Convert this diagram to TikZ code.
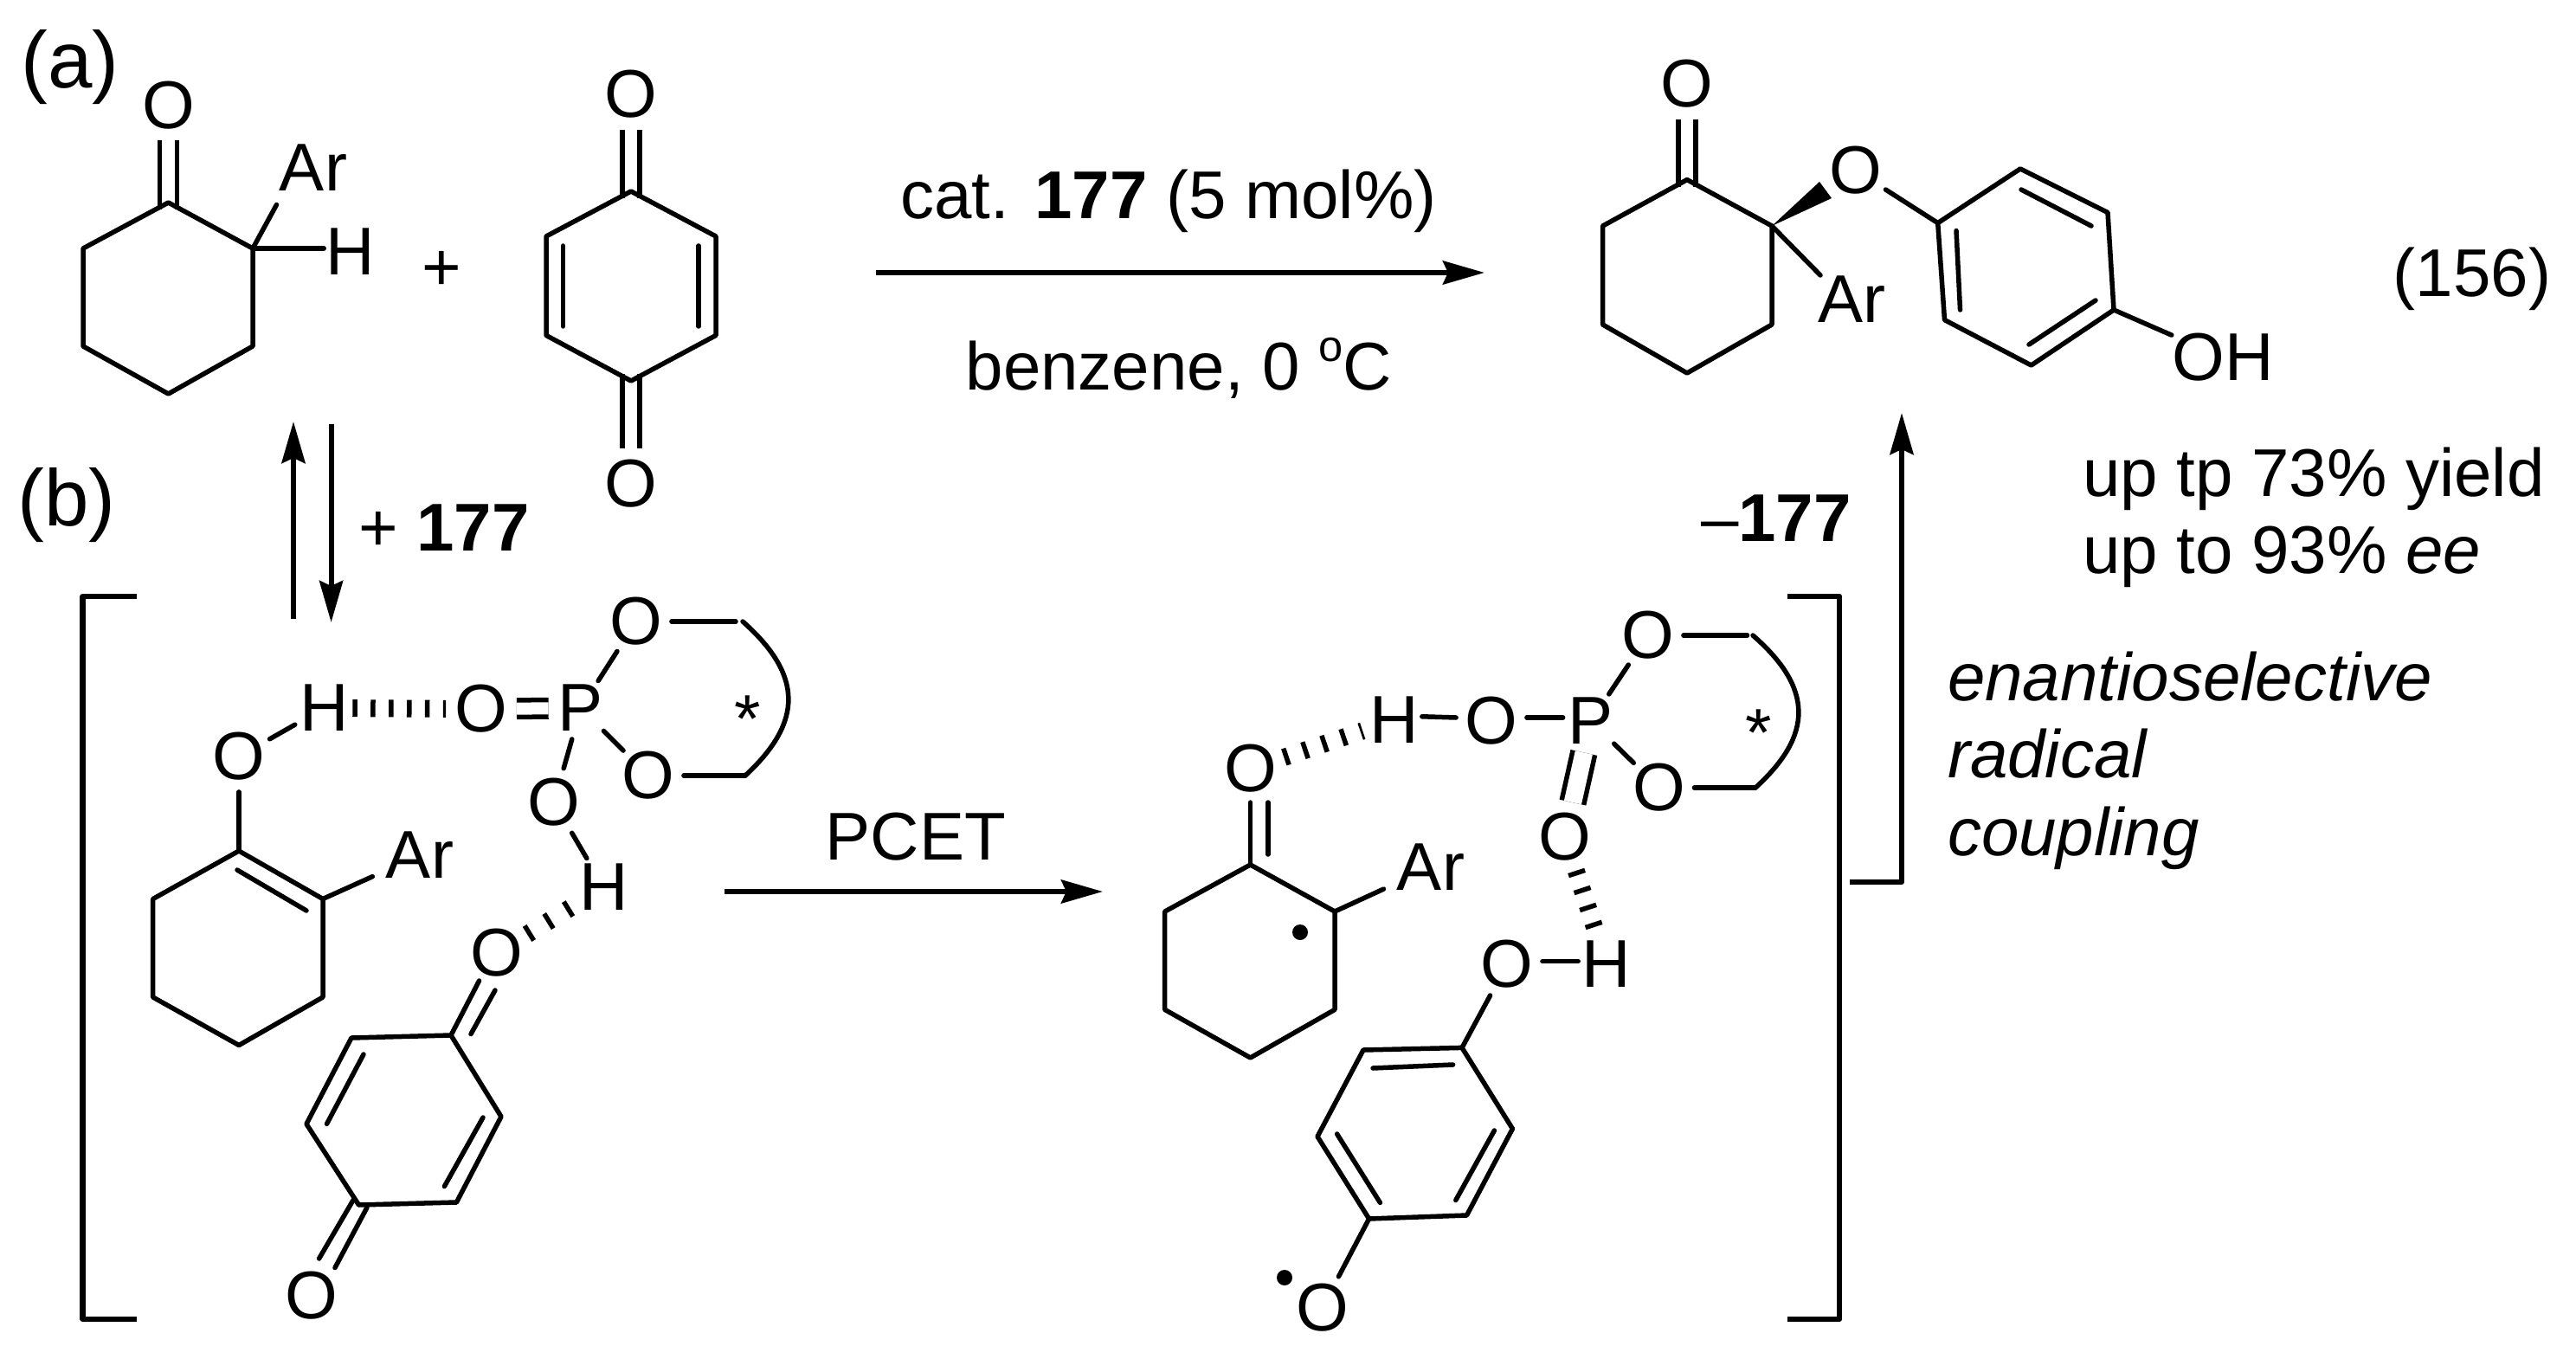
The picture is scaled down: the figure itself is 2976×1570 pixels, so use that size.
\documentclass[tikz,border=0pt]{standalone}
\usepackage{fontspec}
\setmainfont{Liberation Sans}
\usetikzlibrary{arrows.meta,calc}
\tikzset{
  bond/.style={line width=.055cm,line cap=round},
  dbond/.style={line width=.055cm,line cap=butt,double,double distance=.145cm},
  hbond/.style={line width=.2cm,line cap=butt,dash pattern=on .055cm off #1},
  brack/.style={line width=.065cm},
  atom/.style={circle,inner sep=0pt,outer sep=0pt},
  arlabel/.style={atom,minimum size=1.2cm},
  txt/.style={inner sep=0pt,outer sep=0pt,anchor=base},
  txtl/.style={inner sep=0pt,outer sep=0pt,anchor=base west},
  partlabel/.style={txt,font=\fontsize{26.3}{30}\selectfont},
  radical/.style={circle,fill=black,inner sep=0pt,minimum size=.18cm},
}
\begin{document}
\begin{tikzpicture}[x=.01cm,y=-.01cm,line join=round,line width=.06cm,>={Stealth[length=.48cm,width=.27cm,inset=.06cm]},every node/.style={font=\fontsize{22.2}{26}\selectfont}]
\useasboundingbox (0,0) rectangle (2976,1570);
% labels
\node[partlabel] (la) at (81,102) {(a)};
\node[partlabel] (lb) at (77,607) {(b)};
\node[txt] (eqno) at (2856,343) {(156)};
\node[txtl] (plus) at (487,336) {+};
\node[txtl] (add) at (414,636) {+ \textbf{177}};
\node[txtl] (rem) at (1965,625) {--\textbf{177}};
\node[txt] (cat) at (1350,253) {cat. \textbf{177} (5 mol\%)};
\node[txt] (solv) at (1362,451) {benzene, 0 \raisebox{.33cm}{\fontsize{14.4}{16}\selectfont o}C};
\node[txt] (pcet) at (1058,993) {PCET};
\node[txtl] (yld) at (2406,573) {up tp 73\% yield};
\node[txtl] (ee) at (2406,662) {up to 93\% \textit{ee}};
\node[txtl] (it1) at (2250,809) {\textit{enantioselective}};
\node[txtl] (it2) at (2250,898) {\textit{radical}};
\node[txtl] (it3) at (2250,988) {\textit{coupling}};
% ketone
\coordinate (kc1) at (194.5,234); \coordinate (kc2) at (292,287); \coordinate (kc3) at (292,400);
\coordinate (kc4) at (194.5,455); \coordinate (kc5) at (96,400); \coordinate (kc6) at (96,287);
\node[atom] (ko) at (194.5,121.5) {O};
\node[arlabel] (kar) at (362,194) {Ar};
\node[atom] (kh) at (405,290.5) {H};
\draw[dbond,shorten >=-.08cm] (ko) -- (kc1);
\draw[bond] (kc1) -- (kc2) -- (kc3) -- (kc4) -- (kc5) -- (kc6) -- cycle;
\draw[bond] (kc2) -- (kar.south west);
\draw[bond,shorten >=-.08cm] (kc2) -- (kc2 -| kh.west);
% quinone
\coordinate (qc1) at (729,221); \coordinate (qc2) at (827,273); \coordinate (qc3) at (827,387.5);
\coordinate (qc4) at (729,440); \coordinate (qc5) at (631,387.5); \coordinate (qc6) at (631,273);
\coordinate (qi1) at (650.5,284); \coordinate (qi2) at (650.5,377);
\coordinate (qi3) at (807,284); \coordinate (qi4) at (807,377);
\node[atom] (qo1) at (729,109) {O};
\node[atom] (qo2) at (729,559) {O};
\draw[dbond,shorten >=-.08cm] (qo1) -- (qc1);
\draw[dbond,shorten >=-.08cm] (qo2) -- (qc4);
\draw[bond] (qc1) -- (qc2) -- (qc3) -- (qc4) -- (qc5) -- (qc6) -- cycle;
\draw[bond] (qi1) -- (qi2);
\draw[bond] (qi3) -- (qi4);
% product
\coordinate (pc1) at (1949,207.6); \coordinate (pc2) at (2047,261); \coordinate (pc3) at (2047,375);
\coordinate (pc4) at (1949,431); \coordinate (pc5) at (1851.6,375); \coordinate (pc6) at (1851.6,261);
\coordinate (pw1) at (2102,210); \coordinate (pw2) at (2116,229); \coordinate (par1) at (2103,318);
\coordinate (pa1) at (2238.7,257.6); \coordinate (pa2) at (2334,195); \coordinate (pa3) at (2435,245.5);
\coordinate (pa4) at (2442,358); \coordinate (pa5) at (2346.6,422); \coordinate (pa6) at (2246.5,369.6);
\coordinate (pi1) at (2335,219); \coordinate (pi2) at (2416,261);
\coordinate (pi3) at (2260,266.5); \coordinate (pi4) at (2264.5,358);
\coordinate (pi5) at (2421,347); \coordinate (pi6) at (2344,398);
\node[atom] (po1) at (1949,97) {O};
\node[atom] (po2) at (2144,197) {O};
\node[atom] (poh) at (2568,413) {OH};
\node[txtl] (par) at (2100,373) {Ar};
\draw[dbond,shorten >=-.08cm] (po1) -- (pc1);
\draw[bond] (pc1) -- (pc2) -- (pc3) -- (pc4) -- (pc5) -- (pc6) -- cycle;
\fill (pc2) -- (pw1) -- (pw2) -- cycle;
\draw[bond] (pc2) -- (par1);
\draw[bond] (po2) -- (pa1);
\draw[bond] (pa1) -- (pa2) -- (pa3) -- (pa4) -- (pa5) -- (pa6) -- cycle;
\draw[bond] (pi1) -- (pi2);
\draw[bond] (pi3) -- (pi4);
\draw[bond] (pi5) -- (pi6);
\draw[bond] (pa4) -- (poh);
% reaction arrows
\coordinate (ra1) at (1012,315); \coordinate (ra2) at (1715,315);
\draw[->] (ra1) -- (ra2);
\coordinate (eq1) at (339,714.5); \coordinate (eq2) at (339,487);
\coordinate (eq3) at (382.6,490); \coordinate (eq4) at (382.6,719);
\draw[->] (eq1) -- (eq2);
\draw[->] (eq3) -- (eq4);
\coordinate (pa) at (836.7,1030); \coordinate (pb) at (1274,1030);
\draw[->] (pa) -- (pb);
\coordinate (ex1) at (2136.5,1019); \coordinate (ex2) at (2197,1019); \coordinate (ex3) at (2197,477);
\draw[->] (ex1) -- (ex2) -- (ex3);
% brackets
\coordinate (lb1) at (158,689); \coordinate (lb2) at (95.7,689); \coordinate (lb3) at (95.7,1524); \coordinate (lb4) at (158,1524);
\coordinate (rb1) at (2065,689); \coordinate (rb2) at (2125,689); \coordinate (rb3) at (2125,1524); \coordinate (rb4) at (2065,1524);
\draw[brack] (lb1) -- (lb2) -- (lb3) -- (lb4);
\draw[brack] (rb1) -- (rb2) -- (rb3) -- (rb4);
% left complex
\coordinate (ec1) at (276,983); \coordinate (ec2) at (373,1038.5); \coordinate (ec3) at (373,1152);
\coordinate (ec4) at (276,1207.5); \coordinate (ec5) at (176.7,1152); \coordinate (ec6) at (176.7,1038.5);
\coordinate (ei1) at (274,1005); \coordinate (ei2) at (354,1052);
\node[atom] (eo) at (276,874) {O};
\node[atom] (eh) at (374.5,818) {H};
\node[arlabel] (ear) at (485,988) {Ar};
\node[atom] (lpo) at (556,819) {O};
\node[atom] (lp) at (671,818) {P};
\node[atom] (lo1) at (735,718) {O};
\node[atom] (lo2) at (749,896) {O};
\node[atom] (lo3) at (640,927) {O};
\node[atom] (lh) at (697.5,1025) {H};
\node[txt] (lstar) at (864,857) {*};
\coordinate (lc1) at (850,718); \coordinate (lc2) at (858,718); \coordinate (lc3) at (861,896);
\draw[bond] (eo) -- (ec1);
\draw[bond] (ec1) -- (ec2) -- (ec3) -- (ec4) -- (ec5) -- (ec6) -- cycle;
\draw[bond] (ei1) -- (ei2);
\draw[bond] (ec2) -- (ear);
\draw[bond] (eo) -- (eh);
\draw[hbond=.154cm,shorten <=-.06cm] (eh) -- (lpo);
\draw[dbond,double distance=.14cm,yshift=.03cm] (lpo) -- (lp);
\draw[bond] (lp) -- (lo1);
\draw[bond] (lp) -- (lo2);
\draw[bond] (lp) -- (lo3);
\draw[bond] (lo3) -- (lh);
\draw[bond] (lo1) -- (lc1);
\draw[bond] (lo2) -- (lc3);
\draw[bond] (lc2) .. controls (928,780) and (928,834) .. (lc3);
% left quinone
\coordinate (lq1) at (521,1196); \coordinate (lq2) at (406,1199); \coordinate (lq3) at (354,1298.5);
\coordinate (lq4) at (414.5,1392); \coordinate (lq5) at (527.4,1389); \coordinate (lq6) at (579,1290);
\coordinate (lqi1) at (420,1218); \coordinate (lqi2) at (377.5,1298.5);
\coordinate (lqi3) at (558,1291); \coordinate (lqi4) at (513.4,1370.6);
\coordinate (lqd1) at (553.6,1133); \coordinate (lqd2) at (544,1194.6); \coordinate (lqd3) at (572,1144);
\coordinate (lqd4) at (408,1386.5); \coordinate (lqd5) at (368.6,1454); \coordinate (lqd6) at (424,1395); \coordinate (lqd7) at (387,1464.5);
\node[atom] (lqo1) at (574,1101) {O};
\node[atom] (lqo2) at (360,1497) {O};
\draw[bond] (lq1) -- (lq2) -- (lq3) -- (lq4) -- (lq5) -- (lq6) -- cycle;
\draw[bond] (lqi1) -- (lqi2);
\draw[bond] (lqi3) -- (lqi4);
\draw[bond] (lq1) -- (lqd1);
\draw[bond] (lqd2) -- (lqd3);
\draw[bond] (lqd4) -- (lqd5);
\draw[bond] (lqd6) -- (lqd7);
\draw[hbond=.21cm,shorten <=.065cm] (lh) -- (lqo1);
% right complex
\coordinate (rc1) at (1444.5,999); \coordinate (rc2) at (1542,1053); \coordinate (rc3) at (1542,1166.4);
\coordinate (rc4) at (1444.5,1222); \coordinate (rc5) at (1345.7,1166.4); \coordinate (rc6) at (1345.7,1053);
\coordinate (rd1) at (1444.5,927); \coordinate (rd2) at (1465,927); \coordinate (rd3) at (1465,987);
\node[atom] (ro) at (1444.5,888) {O};
\node[arlabel] (rar) at (1653,1002) {Ar};
\node[radical] (rdot) at (1502,1077) {};
\node[atom] (rh) at (1611,832) {H};
\node[atom] (rpo) at (1723,833) {O};
\node[atom] (rp) at (1838,833) {P};
\node[atom] (ro1) at (1904,734) {O};
\node[atom] (ro2) at (1916.5,910) {O};
\node[atom] (ro3) at (1808,967) {O};
\node[atom] (rh2) at (1856,1114) {H};
\node[atom] (ro4) at (1741,1114) {O};
\node[txt] (rstar) at (2032,873) {*};
\coordinate (rc7) at (2018.5,734); \coordinate (rc8) at (2025,734); \coordinate (rc9) at (2028,910);
\draw[bond] (rc1) -- (rc2) -- (rc3) -- (rc4) -- (rc5) -- (rc6) -- cycle;
\draw[bond] (rd1) -- (rc1);
\draw[bond] (rd2) -- (rd3);
\draw[bond] (rc2) -- (rar);
\draw[hbond=.178cm] (ro) -- (rh);
\draw[bond,shorten <=-.07cm] ([yshift=.04cm]rh.east) -- ([yshift=.04cm]rpo.west);
\draw[bond,shorten >=-.05cm] ([yshift=.04cm]rpo.east) -- ([yshift=.04cm]rp.west);
\draw[bond] (rp) -- (ro1);
\draw[bond] (rp) -- (ro2);
\draw[dbond,double distance=.205cm] (rp) -- (ro3);
\draw[bond] (ro1) -- (rc7);
\draw[bond] (ro2) -- (rc9);
\draw[bond] (rc8) .. controls (2095,795) and (2095,849) .. (rc9);
\draw[hbond=.155cm] (ro3) -- (rh2);
\draw[bond,shorten >=-.06cm] ([yshift=.035cm]ro4.east) -- ([yshift=.035cm]rh2.west);
% right phenoxyl
\coordinate (rq1) at (1689,1210.4); \coordinate (rq2) at (1575,1213); \coordinate (rq3) at (1522,1313);
\coordinate (rq4) at (1581.6,1408); \coordinate (rq5) at (1694.5,1404); \coordinate (rq6) at (1747.4,1304);
\coordinate (rqi1) at (1586,1234); \coordinate (rqi2) at (1678.6,1230);
\coordinate (rqi3) at (1544.6,1310); \coordinate (rqi4) at (1594.4,1389.4);
\coordinate (rqi5) at (1726.4,1306); \coordinate (rqi6) at (1681.8,1386.5);
\node[atom] (ro5) at (1527.4,1511) {O};
\node[radical] (odot) at (1484,1476) {};
\draw[bond] (rq1) -- (rq2) -- (rq3) -- (rq4) -- (rq5) -- (rq6) -- cycle;
\draw[bond] (rqi1) -- (rqi2);
\draw[bond] (rqi3) -- (rqi4);
\draw[bond] (rqi5) -- (rqi6);
\draw[bond] (ro4) -- (rq1);
\draw[bond] (ro5) -- (rq4);
\end{tikzpicture}
\end{document}
